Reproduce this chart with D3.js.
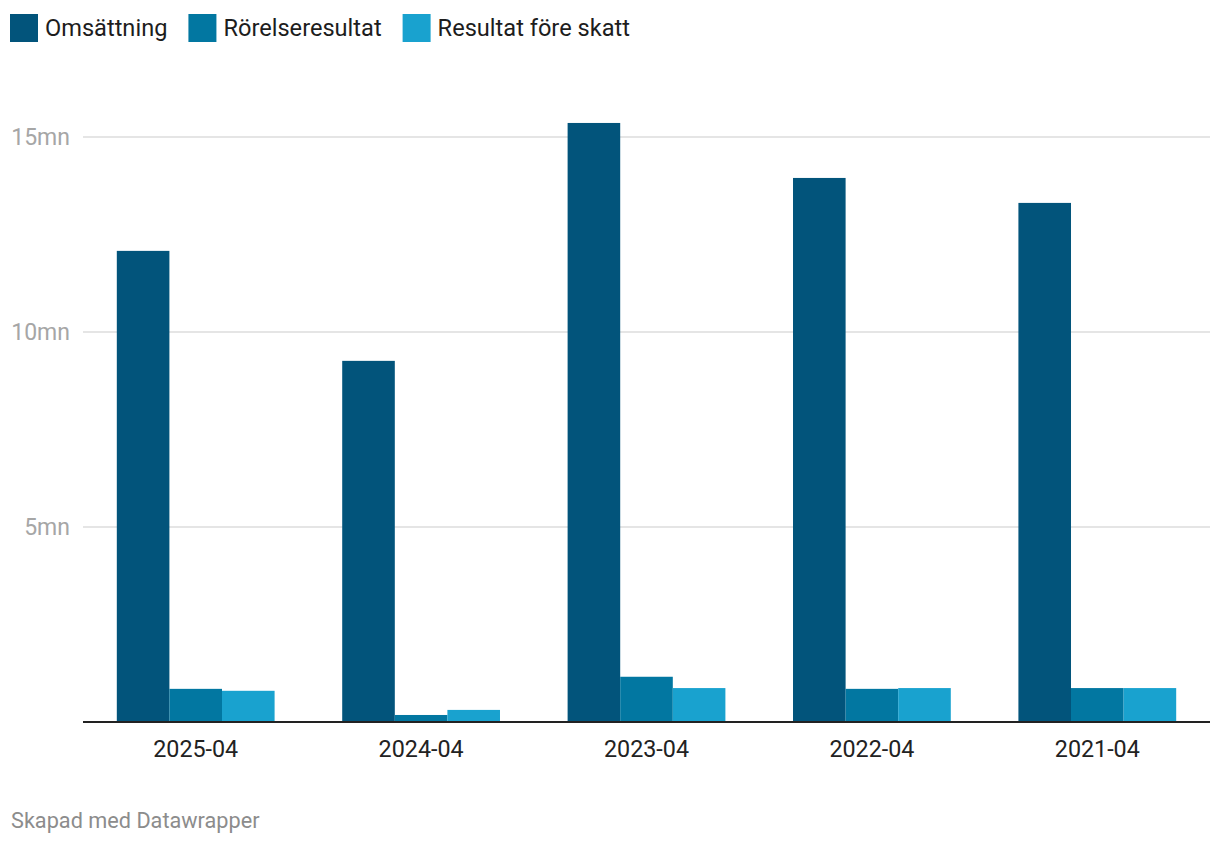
<!DOCTYPE html>
<html>
<head>
<meta charset="utf-8">
<script src="https://cdn.jsdelivr.net/npm/d3@7"></script>
<style>
  html, body { margin: 0; padding: 0; background: #fff; }
  svg { display: block; font-family: Roboto, "Noto Sans", sans-serif; }
</style>
</head>
<body>
<svg id="chart" width="1220" height="844"></svg>
<script>
const categories = ["2025-04", "2024-04", "2023-04", "2022-04", "2021-04"];
const seriesNames = ["Omsättning", "Rörelseresultat", "Resultat före skatt"];
const omsattning = [12.08, 9.26, 15.36, 13.95, 13.31];
const rorelseresultat = [0.85, 0.18, 1.16, 0.85, 0.87];
const resultatForeSkatt = [0.80, 0.31, 0.87, 0.87, 0.87];
const yTicks = [5, 10, 15];
const yTickLabels = ["5mn", "10mn", "15mn"];
const colors = ["#02547b", "#0277a1", "#19a2cf"];
const footerText = "Skapad med Datawrapper";

const seriesValues = [omsattning, rorelseresultat, resultatForeSkatt];

(function () {
const svg = d3.select("#chart");
const mLeft = 83, mRight = 1210, mTop = 137, mBottom = 722;

const y = d3.scaleLinear().domain([0, 15]).range([mBottom, mTop]);
const x0 = d3.scaleBand().domain(categories).range([mLeft, mRight])
  .paddingInner(0.3).paddingOuter(0.15);
const x1 = d3.scaleBand().domain(seriesNames).range([0, x0.bandwidth()]).padding(0);
const color = d3.scaleOrdinal().domain(seriesNames).range(colors);

// gridlines
const grid = svg.append("g").attr("class", "grid");
grid.selectAll("line").data(yTicks).join("line")
  .attr("x1", mLeft).attr("x2", mRight)
  .attr("y1", d => y(d)).attr("y2", d => y(d))
  .attr("stroke", "#e5e5e5").attr("stroke-width", 2);

// y labels
const yAxis = d3.axisLeft(y).tickValues(yTicks).tickSize(0).tickPadding(0)
  .tickFormat((d, i) => yTickLabels[i]);
const yg = svg.append("g").attr("transform", `translate(70,0)`).call(yAxis);
yg.select(".domain").remove();
yg.selectAll("text").attr("font-size", 23).attr("fill", "#a6a6a6")
  .attr("font-family", "Roboto").attr("dy", "0.34em");

// bars
const rows = categories.map((c, i) => ({ cat: c, vals: seriesNames.map((s, j) => ({ s, v: seriesValues[j][i] })) }));
const groups = svg.append("g").selectAll("g").data(rows).join("g")
  .attr("transform", d => `translate(${x0(d.cat)},0)`);
groups.selectAll("rect").data(d => d.vals).join("rect")
  .attr("x", d => x1(d.s)).attr("width", x1.bandwidth())
  .attr("y", d => y(d.v)).attr("height", d => y(0) - y(d.v))
  .attr("fill", d => color(d.s));

// x axis
const xAxis = d3.axisBottom(x0).tickSize(0).tickPadding(0);
const xg = svg.append("g").attr("transform", `translate(0,${mBottom})`).call(xAxis);
xg.select(".domain").remove();
xg.selectAll("text").attr("font-size", 23.3).attr("fill", "#222")
  .attr("font-family", "Roboto").attr("dy", 0).attr("y", 35);
svg.append("line").attr("x1", mLeft).attr("x2", mRight)
  .attr("y1", mBottom).attr("y2", mBottom)
  .attr("stroke", "#222").attr("stroke-width", 2);

// legend
const legend = svg.append("g");
let lx = 10;
seriesNames.forEach((s, i) => {
  legend.append("rect").attr("x", lx).attr("y", 14).attr("width", 28).attr("height", 28).attr("fill", colors[i]);
  const t = legend.append("text").attr("x", lx + 35).attr("y", 36)
    .attr("font-size", 23.6).attr("fill", "#1d1d1d").text(s);
  const w = t.node().getComputedTextLength();
  lx = lx + 35 + w + 21;
});

// footer
svg.append("text").attr("x", 11).attr("y", 828).attr("font-size", 21.7)
  .attr("fill", "#8c8c8c").text(footerText);
})();
</script>
</body>
</html>
